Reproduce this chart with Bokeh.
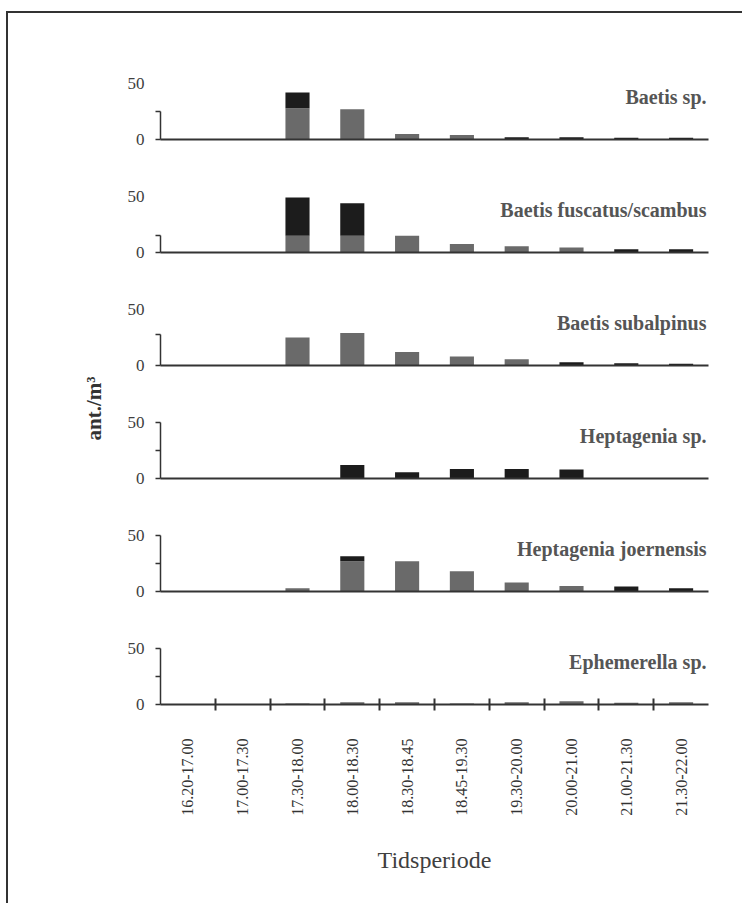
from math import pi
from bokeh.plotting import figure
from bokeh.layouts import row, column
from bokeh.models import (ColumnDataSource, FactorRange, Range1d, LinearAxis,
                          CategoricalAxis, FixedTicker, Label)
from bokeh.embed import file_html
from bokeh.resources import INLINE

# ---------------- data ----------------
periods = ["16.20-17.00", "17.00-17.30", "17.30-18.00", "18.00-18.30", "18.30-18.45",
           "18.45-19.30", "19.30-20.00", "20.00-21.00", "21.00-21.30", "21.30-22.00"]

species = ["Baetis sp.", "Baetis fuscatus/scambus", "Baetis subalpinus",
           "Heptagenia sp.", "Heptagenia joernensis", "Ephemerella sp."]

# lower (grey) and upper (dark) part of each stacked bar, ant./m3
baetis_sp_grey = [0, 0, 28, 27, 5, 4, 0, 0, 0, 0]
baetis_sp_dark = [0, 0, 14, 0, 0, 0, 2, 2, 1.5, 1.5]
fuscatus_grey = [0, 0, 15, 15, 15, 7.5, 5.5, 4.5, 0, 0]
fuscatus_dark = [0.5, 0.5, 34, 29, 0, 0, 0, 0, 3, 3]
subalpinus_grey = [0, 0, 25, 29, 12, 8, 5.5, 0, 0, 0]
subalpinus_dark = [0, 0, 0, 0, 0, 0, 0, 3, 2, 1.5]
heptagenia_sp_grey = [0, 0, 0, 0, 0, 0, 0, 0, 0, 0]
heptagenia_sp_dark = [0, 0, 0.5, 12, 5.5, 8.5, 8.5, 8, 0.5, 0.5]
joernensis_grey = [0, 0, 3, 27, 27, 18, 8, 5, 0, 0]
joernensis_dark = [0, 0, 0, 4.5, 0, 0, 0, 0, 4.5, 3]
ephemerella_grey = [0, 0, 1, 2, 2, 1, 2, 3, 1.5, 2]
ephemerella_dark = [0, 0, 0, 0, 0, 0, 0, 0, 0, 0]

grey_parts = [baetis_sp_grey, fuscatus_grey, subalpinus_grey,
              heptagenia_sp_grey, joernensis_grey, ephemerella_grey]
dark_parts = [baetis_sp_dark, fuscatus_dark, subalpinus_dark,
              heptagenia_sp_dark, joernensis_dark, ephemerella_dark]

y_ticks = [0, 50]
x_label = "Tidsperiode"
y_label = "ant./m³"

# ---------------- style ----------------
axis_tops = [25, 15, 28, 50, 50, 50]     # drawn length of each y axis line
SERIF = "Liberation Serif"
GREY = "#6a6a6a"
DARK = "#1c1c1c"
AXIS = "#333333"
TEXT = "#404040"
LABEL = "#555555"

# boundaries between the time periods (for the tick marks of the bottom axis)
edge_names = ["e%d" % k for k in range(len(periods) + 1)]

panels = []
n = len(species)
for i in range(n):
    last = i == n - 1
    src = ColumnDataSource(dict(period=periods, grey=grey_parts[i], dark=dark_parts[i]))
    p = figure(x_range=FactorRange(factors=periods), y_range=Range1d(0, 50),
               frame_width=548, frame_height=56, output_backend="svg",
               toolbar_location=None, x_axis_location=None, y_axis_location=None,
               min_border_left=45, min_border_right=34,
               min_border_top=70 if i == 0 else 35,
               min_border_bottom=199 if last else 22)
    # shifted categorical range whose factor centres fall on the period boundaries
    p.extra_x_ranges = {"edges": FactorRange(factors=edge_names, range_padding=-0.5,
                                             range_padding_units="absolute")}
    p.outline_line_color = None
    p.grid.visible = False
    p.background_fill_color = "white"
    p.border_fill_color = "white"

    p.vbar_stack(["grey", "dark"], x="period", width=0.44, source=src,
                 fill_color=[GREY, DARK], line_color=None)

    top = axis_tops[i]
    marks = [0, top] if top < 50 else [0, 25, 50]
    yax = LinearAxis(ticker=FixedTicker(ticks=y_ticks, minor_ticks=marks),
                     bounds=(0, top),
                     axis_line_color=AXIS, axis_line_width=1.5,
                     major_tick_line_color=None, major_tick_in=0, major_tick_out=0,
                     minor_tick_line_color=AXIS, minor_tick_line_width=1.5,
                     minor_tick_in=0, minor_tick_out=5,
                     major_label_standoff=11,
                     major_label_text_font=SERIF, major_label_text_font_size="17px",
                     major_label_text_color=TEXT)
    p.add_layout(yax, "left")

    eax = CategoricalAxis(x_range_name="edges",
                          major_tick_in=6 if last else 0, major_tick_out=6 if last else 0,
                          major_label_text_font_size="1px", major_label_text_color=None,
                          major_label_standoff=0,
                          axis_line_color=AXIS, axis_line_width=2,
                          major_tick_line_color=AXIS if last else None, major_tick_line_width=2,
                          minor_tick_line_color=None)
    p.add_layout(eax, "below")

    if last:
        cax = CategoricalAxis(axis_line_color=None, major_tick_line_color=None,
                              minor_tick_line_color=None,
                              major_label_orientation=pi / 2, major_label_standoff=22,
                              major_label_text_font=SERIF, major_label_text_font_size="16px",
                              major_label_text_color=AXIS,
                              axis_label=x_label, axis_label_text_font=SERIF,
                              axis_label_text_font_size="24px",
                              axis_label_text_font_style="normal",
                              axis_label_text_color=TEXT, axis_label_standoff=28)
        p.add_layout(cax, "below")

    p.add_layout(Label(x=len(periods), y=38, x_offset=-2, text=species[i],
                       text_align="right", text_baseline="middle", text_font=SERIF,
                       text_font_style="bold", text_font_size="20px", text_color=LABEL))
    panels.append(p)

left = figure(width=107, height=890, x_range=Range1d(0, 1), y_range=Range1d(0, 1),
              output_backend="svg", toolbar_location=None,
              x_axis_location=None, y_axis_location=None, min_border=0)
left.outline_line_color = None
left.grid.visible = False
left.add_layout(Label(x=85, y=495, x_units="screen", y_units="screen", angle=pi / 2,
                      text=y_label, text_align="center", text_baseline="middle",
                      text_font=SERIF, text_font_style="bold", text_font_size="21px",
                      text_color="#333333"))

layout = row(left, column(*panels), margin=(11, 0, 0, 6),
             styles={"border-top": "2px solid #333333", "border-left": "2px solid #333333"})

open("out.html", "w").write(file_html(layout, INLINE))
